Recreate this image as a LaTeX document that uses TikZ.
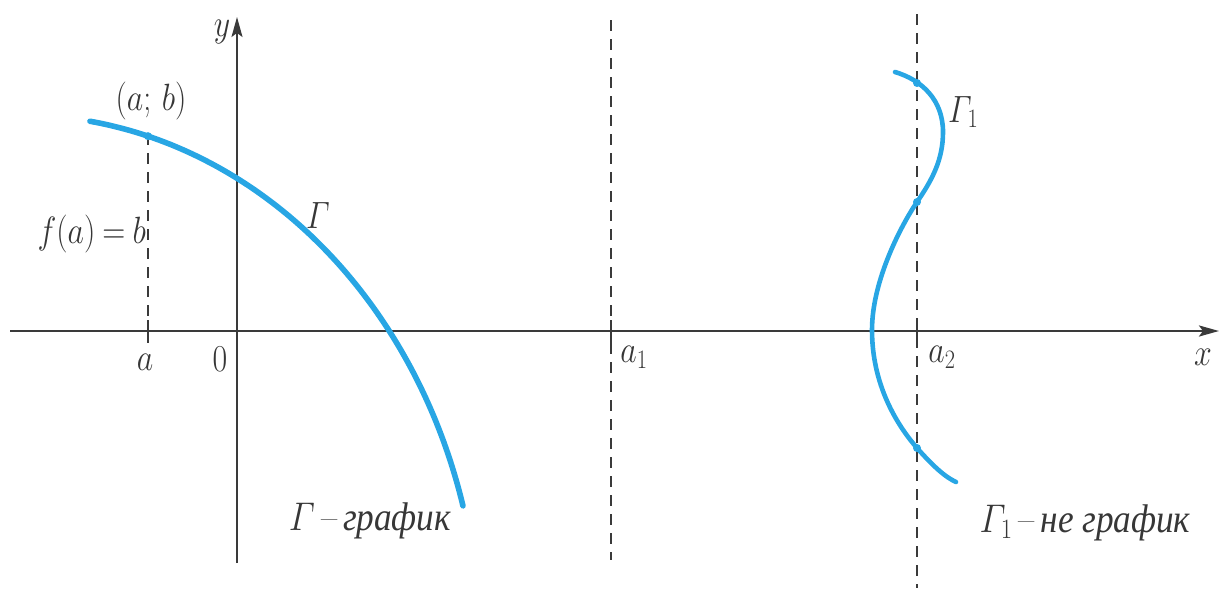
\RequirePackage{fix-cm}
\documentclass[tikz,border=0pt]{standalone}
\usepackage{amsmath}
\usepackage{graphicx}
\usepackage{fontspec}
\newfontfamily\cyrit{Liberation Serif}
\usetikzlibrary{arrows.meta}
\definecolor{axc}{RGB}{58,58,58}
\definecolor{txc}{RGB}{55,55,55}
\definecolor{blu}{RGB}{40,166,228}
\newcommand{\narrowtxt}[1]{\scalebox{0.84}[1]{#1}}
\newcommand{\narrowcyr}[1]{\scalebox{0.88}[1]{#1}}
\begin{document}
\begin{tikzpicture}[x=1pt,y=-1pt,
  xaxis/.style={line width=2.6pt, draw=axc, -{Stealth[length=20pt,width=11pt,inset=4pt]}},
  yaxis/.style={line width=1.8pt, draw=axc, -{Stealth[length=20pt,width=11pt,inset=4pt]}},
  guide/.style={line width=1.3pt, draw=axc, dash pattern=on 11pt off 8pt},
  tickmark/.style={line width=1.6pt, draw=axc},
  curve/.style={line width=5.6pt, draw=blu, line cap=round},
  curvethin/.style={line width=4.6pt, draw=blu, line cap=round},
  dot/.style={circle, fill=blu, inner sep=0pt, minimum size=8pt},
  lbl/.style={text=txc, inner sep=0pt, font=\fontsize{38}{44}\selectfont},
  cyrlbl/.style={text=txc, inner sep=0pt, font=\fontsize{40}{46}\selectfont}]
\useasboundingbox (0,0) rectangle (1220,589);
% axes
\coordinate (xs) at (10,331); \coordinate (xe) at (1219,331);
\coordinate (ys) at (237,563); \coordinate (ye) at (237,17);
% dashed guides
\coordinate (gat) at (148,134); \coordinate (gab) at (148,342);
\coordinate (g1t) at (611,20);  \coordinate (g1b) at (611,560);
\coordinate (g2t) at (917,14);  \coordinate (g2b) at (917,588);
\draw[guide] (gat) -- (gab);
\draw[guide] (g1t) -- (g1b);
\draw[guide] (g2t) -- (g2b);
% ticks
\coordinate (ta1) at (148,320); \coordinate (ta2) at (148,343);
\coordinate (t11) at (611,320); \coordinate (t12) at (611,343);
\coordinate (t21) at (917,320); \coordinate (t22) at (917,343);
\draw[tickmark] (ta1) -- (ta2);
\draw[tickmark] (t11) -- (t12);
\draw[tickmark] (t21) -- (t22);
\draw[xaxis] (xs) -- (xe);
\draw[yaxis] (ys) -- (ye);
% curve Gamma (elliptic arc)
\draw[curve] plot[domain=81.25:15.63, samples=90, variable=\t] ({20+460*cos(\t)}, {650-535*sin(\t)});
% curve Gamma_1
\coordinate (c0) at (895,72);
\coordinate (c1) at (943,132);
\coordinate (c2) at (917,202);
\coordinate (c3) at (872,330);
\coordinate (c4) at (917,448);
\coordinate (c5) at (956,482);
\draw[curvethin] (c0) .. controls (922,80) and (943,100) .. (c1)
  .. controls (943,160) and (932,180) .. (c2)
  .. controls (902,224) and (872,280) .. (c3)
  .. controls (872,385) and (897,425) .. (c4)
  .. controls (933,466) and (945,477) .. (c5);
% points
\node[dot] (pab) at ({20+460*cos(73.84)}, {650-535*sin(73.84)}) {};
\node[dot] (p1) at (917,83) {};
\node[dot] (p2) at (c2) {};
\node[dot] (p3) at (c4) {};
% labels
\node[lbl] (ly) at (222,32) {\narrowtxt{$y$}};
\node[lbl] (lx) at (1203,357) {\narrowtxt{$x$}};
\node[lbl] (l0) at (220,359) {\narrowtxt{$0$}};
\node[lbl] (la) at (145,362) {\narrowtxt{$a$}};
\node[lbl] (la1) at (634,357) {\narrowtxt{$a_1$}};
\node[lbl] (la2) at (942,357) {\narrowtxt{$a_2$}};
\node[lbl] (lab) at (151,101) {\narrowtxt{$(a;\,b)$}};
\node[lbl, anchor=east] (lfab) at (146,234) {\narrowtxt{$\thickmuskip=4mu f(a)=b$}};
\node[lbl] (lG) at (318,216) {\narrowtxt{$\varGamma$}};
\node[lbl, anchor=west] (lG1) at (948,112) {\narrowtxt{$\varGamma_1$}};
\node[cyrlbl] (lGg) at (370,521) {\narrowcyr{$\varGamma$\,–\,{\cyrit\itshape график}}};
\node[cyrlbl] (lG1g) at (1085,523) {\narrowcyr{$\varGamma_1$\,–\,{\cyrit\itshape не график}}};
\end{tikzpicture}
\end{document}
